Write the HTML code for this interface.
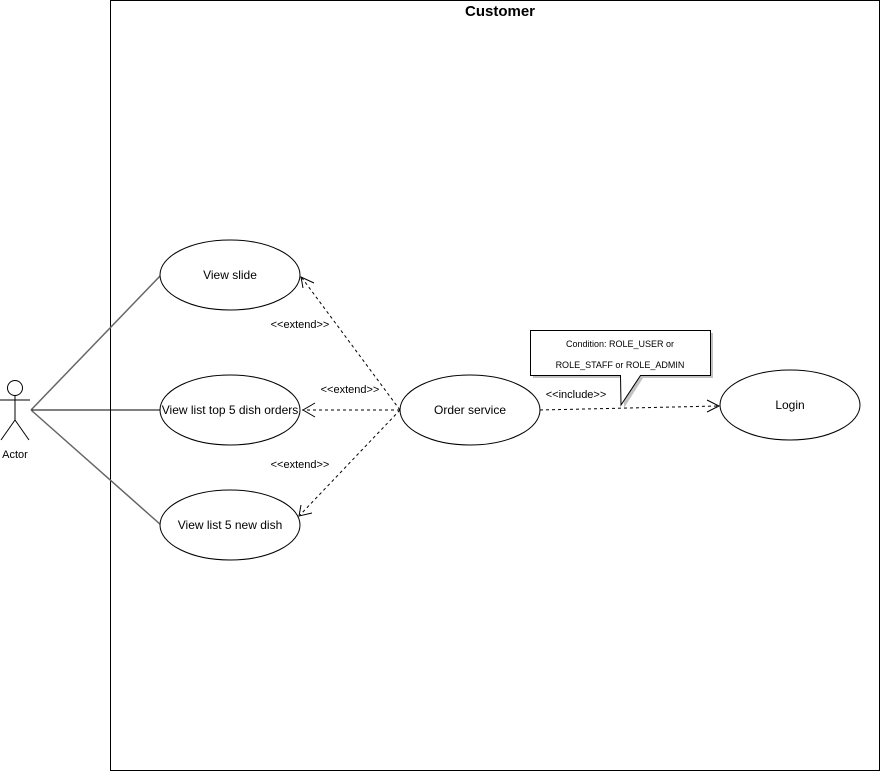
<!DOCTYPE html>
<html><head><style>html,body{margin:0;padding:0;background:#fff;}svg{display:block}</style></head>
<body>
<svg width="881" height="772" xmlns="http://www.w3.org/2000/svg" font-family="Liberation Sans, Arial, sans-serif">
<rect x="110.5" y="0.5" width="769" height="770" fill="#fff" stroke="#000" stroke-width="1"/>
<text x="500" y="16" font-size="15" font-weight="bold" text-anchor="middle">Customer</text>
<!-- actor -->
<g stroke="#000" fill="none" stroke-width="1">
<circle cx="15" cy="388" r="7.5" fill="#fff"/>
<line x1="15" y1="395.5" x2="15" y2="420"/>
<line x1="0" y1="400" x2="30" y2="400"/>
<line x1="15" y1="420" x2="1" y2="440"/>
<line x1="15" y1="420" x2="29" y2="440"/>
</g>
<text x="15" y="458" font-size="11" text-anchor="middle">Actor</text>
<!-- association lines -->
<line x1="31" y1="410" x2="161" y2="275" stroke="#666" stroke-width="1.5"/>
<line x1="31" y1="410" x2="161" y2="410" stroke="#000" stroke-width="1"/>
<line x1="31" y1="410" x2="161" y2="525" stroke="#666" stroke-width="1.5"/>
<!-- ellipses -->
<g fill="#fff" stroke="#000" stroke-width="1">
<ellipse cx="230" cy="275" rx="70" ry="35"/>
<ellipse cx="230" cy="410" rx="70" ry="35"/>
<ellipse cx="230" cy="525" rx="70" ry="35"/>
<ellipse cx="470" cy="410" rx="70" ry="35"/>
<ellipse cx="790" cy="405" rx="70" ry="35"/>
</g>
<g font-size="12" text-anchor="middle">
<text x="230" y="279">View slide</text>
<text x="230" y="414">View list top 5 dish orders</text>
<text x="230" y="529">View list 5 new dish</text>
<text x="470" y="414">Order service</text>
<text x="790" y="409">Login</text>
</g>
<!-- extend dashed -->
<g stroke="#000" fill="none" stroke-width="1" stroke-dasharray="3,3">
<line x1="400" y1="410" x2="302" y2="278"/>
<line x1="400" y1="410" x2="302" y2="410"/>
<line x1="400" y1="410" x2="300" y2="515"/>
<line x1="540" y1="410" x2="718" y2="406"/>
</g>
<g stroke="#000" fill="none" stroke-width="1">
<polyline points="303,288 301,277 314,283"/>
<polyline points="315,403 303,410 315,417"/>
<polyline points="301,505 299,516 312,513"/>
<polyline points="707,400 719,406 707,412"/>
</g>
<g font-size="11" text-anchor="middle">
<text x="300" y="328">&lt;&lt;extend&gt;&gt;</text>
<text x="350" y="393">&lt;&lt;extend&gt;&gt;</text>
<text x="300" y="468">&lt;&lt;extend&gt;&gt;</text>
<text x="576" y="398">&lt;&lt;include&gt;&gt;</text>
</g>
<!-- callout -->
<path d="M533,333 H713 V378 H643 L624,408 L623,378 H533 Z" fill="#999" opacity="0.6"/>
<path d="M530.5,330.5 H710.5 V375.5 H640.5 L621,405 L620.5,375.5 H530.5 Z" fill="#fff" stroke="#000" stroke-width="1"/>
<g font-size="9" text-anchor="middle">
<text x="620" y="347">Condition: ROLE_USER or</text>
<text x="620" y="368">ROLE_STAFF or ROLE_ADMIN</text>
</g>
</svg>
</body></html>
